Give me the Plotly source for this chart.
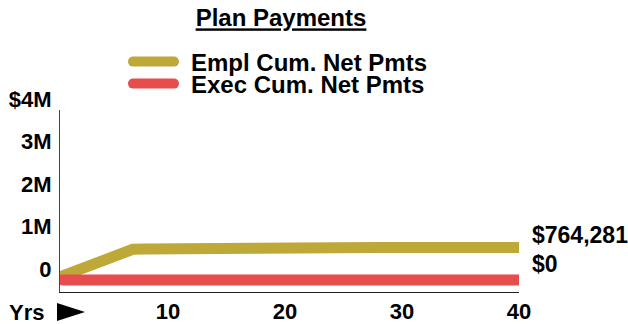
import plotly.graph_objects as go

# Plan cumulative net payments by year
years = list(range(1, 41))
empl_cum_net = [95000, 200000, 305000, 410000, 515000, 620000, 722000,
                728000, 733000, 738000, 742000, 746000, 749000, 752000,
                755000, 757000, 759000, 761000, 762500, 763500] + [764281] * 20
exec_cum_net = [0] * 40

series_names = ["Empl Cum. Net Pmts", "Exec Cum. Net Pmts"]
series_colors = ["#BDA838", "#E84D4D"]

y_tickvals = [0, 1_000_000, 2_000_000, 3_000_000, 4_000_000]
y_ticktext = ["0", "1M", "2M", "3M", "$4M"]
x_tickvals = [10, 20, 30, 40]

FONT = "Liberation Sans, Arial, Helvetica, sans-serif"

fig = go.Figure()
for name, vals, color, leg in zip(series_names, [empl_cum_net, exec_cum_net],
                                   series_colors, ["legend", "legend2"]):
    fig.add_trace(go.Scatter(
        x=years, y=vals, mode="lines", name="\u2002" + name, legend=leg,
        line=dict(color=color, width=11),
        hoverinfo="skip",
    ))

# end-of-series value labels
for vals, shift in zip([empl_cum_net, exec_cum_net], [13, 16]):
    fig.add_annotation(
        x=years[-1], y=vals[-1], xref="x", yref="y",
        text=f"${vals[-1]:,.0f}", showarrow=False,
        xanchor="left", yanchor="middle", xshift=11, yshift=shift,
        font=dict(family=FONT, size=23, color="black", weight="bold"),
    )

# x-axis caption: "Yrs" followed by a pointer triangle
fig.add_annotation(
    x=0, y=0, xref="paper", yref="paper",
    text="Yrs", showarrow=False,
    xanchor="right", yanchor="middle", xshift=-14, yshift=-20,
    font=dict(family=FONT, size=22, color="black", weight="bold"),
)
fig.add_shape(
    type="path", xref="paper", yref="paper",
    xsizemode="pixel", ysizemode="pixel", xanchor=0, yanchor=0,
    path="M-3,-11 L25,-20 L-3,-29 Z",
    fillcolor="black", line=dict(width=0),
)

legend_common = dict(
    xref="container", yref="container", xanchor="left", yanchor="middle",
    font=dict(family=FONT, size=24, color="black", weight="bold"),
    bgcolor="rgba(0,0,0,0)", itemwidth=41, itemclick=False,
)

fig.update_layout(
    width=628, height=324,
    margin=dict(l=60, r=109, t=110, b=32, autoexpand=False),
    paper_bgcolor="white", plot_bgcolor="white",
    font=dict(family=FONT, size=22, color="black", weight="bold"),
    title=dict(
        text="Plan Payments", x=281 / 628, xanchor="center", xref="container",
        y=1 - 18 / 324, yanchor="middle", yref="container",
        font=dict(family=FONT, size=24, color="black", weight="bold",
                  lineposition="under"),
    ),
    legend=dict(x=128 / 628, y=1 - 62 / 324, **legend_common),
    legend2=dict(x=128 / 628, y=1 - 84 / 324, **legend_common),
    xaxis=dict(
        range=[0.78, 40], tickvals=x_tickvals, showgrid=False, zeroline=False,
        showline=True, linecolor="#222", linewidth=1, ticks="",
        layer="below traces", fixedrange=True,
        tickfont=dict(family=FONT, size=22, color="black", weight="bold"),
    ),
    yaxis=dict(
        range=[-283_000, 4_000_000], tickvals=y_tickvals, ticktext=y_ticktext,
        showgrid=False, zeroline=False, showline=True, linecolor="#444",
        linewidth=1, ticks="", layer="below traces", fixedrange=True,
        ticklabelshift=-11, ticklabelstandoff=3,
        tickfont=dict(family=FONT, size=22, color="black", weight="bold"),
    ),
    showlegend=True,
)

round_caps = """
var gd = document.querySelector('.js-plotly-plot');
function roundCaps() {
  document.querySelectorAll('path.js-line').forEach(function (p) {
    p.style.strokeLinecap = 'round';
  });
  document.querySelectorAll('.scatterlayer [clip-path], g.plot[clip-path]').forEach(function (g) {
    g.removeAttribute('clip-path');
  });
}
roundCaps();
if (gd && gd.on) { gd.on('plotly_afterplot', roundCaps); }
"""

fig.write_html("out.html", config={"displayModeBar": False}, post_script=round_caps)
